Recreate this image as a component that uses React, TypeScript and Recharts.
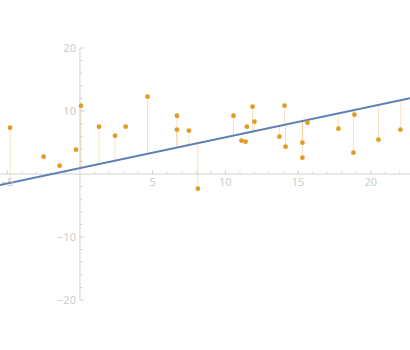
import {
  ComposedChart,
  ErrorBar,
  Line,
  ReferenceDot,
  ReferenceLine,
  Scatter,
  XAxis,
  YAxis,
} from "recharts";

// plot range (data units)
const xDomain = [-5.5, 22.7];
const yDomain = [-20, 20];

// points that get a residual stem to the fit line
const stemX = [-4.81, 0.07, 1.31, 2.41, 4.65, 6.67, 6.67, 7.49, 8.11, 10.56, 11.48, 11.87, 12.0, 13.72, 14.07, 14.14, 15.3, 15.3, 15.65, 17.78, 18.81, 18.88, 20.53, 22.04];
const stemY = [7.35, 10.84, 7.51, 6.08, 12.27, 9.25, 7.03, 6.87, -2.33, 9.25, 7.51, 10.68, 8.3, 5.92, 10.84, 4.33, 4.97, 2.59, 8.14, 7.19, 3.38, 9.41, 5.44, 7.03];

// points drawn without a stem
const plainX = [-2.5, -1.4, -0.27, 3.14, 11.11, 11.39];
const plainY = [2.75, 1.32, 3.86, 7.51, 5.29, 5.13];

// fit line y = a + b x
const fitIntercept = 0.93;
const fitSlope = 0.488;

const xTickLabels = [-5, 5, 10, 15, 20];
const yTickLabels = [-20, -10, 10, 20];

const axisColor = "#d2d2d2";
const labelColor = "#c8c8c8";
const dotColor = "#e19c24";
const stemColor = "rgba(232,160,48,0.3)";
const lineColor = "#5e81b5";

const fit = (x: number) => fitIntercept + fitSlope * x;

const stemData = stemX.map((x, i) => {
  const y = stemY[i];
  const d = y - fit(x);
  return { x, y, err: d > 0 ? [d, 0] : [0, -d] };
});
const plainData = plainX.map((x, i) => ({ x, y: plainY[i] }));
const lineData = xDomain.map((x) => ({ x, y: fit(x) }));

const xMinor: number[] = [];
for (let v = -5; v <= 22; v++) if (v !== 0) xMinor.push(v);
const yMinor: number[] = [];
for (let v = -20; v <= 20; v += 2) if (v !== 0) yMinor.push(v);

const fmt = (v: number) => (v < 0 ? "\u2212" + Math.abs(v) : String(v));

const labelStyle = { fill: labelColor, fontSize: 11, fontFamily: "Open Sans" };

const Dot = (p: any) => <circle cx={p.cx} cy={p.cy} r={2.4} fill={dotColor} />;

export default function App() {
  return (
    <div style={{ position: "absolute", left: 0, top: 0 }}>
      <ComposedChart
        width={410}
        height={350}
        margin={{ top: 48, right: 0, bottom: 50, left: 0 }}
      >
        <XAxis type="number" dataKey="x" domain={xDomain} allowDataOverflow hide />
        <YAxis type="number" dataKey="y" domain={yDomain} allowDataOverflow hide />

        {/* axes through the origin */}
        <ReferenceLine y={0} stroke={axisColor} strokeWidth={1} />
        <ReferenceLine
          segment={[{ x: 0, y: yDomain[0] }, { x: 0, y: yDomain[1] }]}
          stroke={axisColor}
          strokeWidth={1}
        />
        {xMinor.map((v) => (
          <ReferenceLine
            key={"xt" + v}
            segment={[{ x: v, y: 0 }, { x: v, y: v % 5 === 0 ? 0.62 : 0.34 }]}
            stroke={axisColor}
          />
        ))}
        {yMinor.map((v) => (
          <ReferenceLine
            key={"yt" + v}
            segment={[{ x: 0, y: v }, { x: v % 10 === 0 ? 0.3 : 0.18, y: v }]}
            stroke={axisColor}
          />
        ))}
        {xTickLabels.map((v) => (
          <ReferenceDot
            key={"xl" + v}
            x={v}
            y={0}
            r={0}
            fill="none"
            stroke="none"
            label={{ value: fmt(v), position: "bottom", offset: 4, style: labelStyle }}
          />
        ))}
        {yTickLabels.map((v) => (
          <ReferenceDot
            key={"yl" + v}
            x={0}
            y={v}
            r={0}
            fill="none"
            stroke="none"
            label={{ value: fmt(v), position: "left", offset: 4, style: labelStyle }}
          />
        ))}

        <Scatter data={stemData} dataKey="y" shape={Dot} isAnimationActive={false}>
          <ErrorBar
            dataKey="err"
            direction="y"
            width={0}
            stroke={stemColor}
            strokeWidth={1}
            isAnimationActive={false}
          />
        </Scatter>
        <Line
          data={lineData}
          dataKey="y"
          stroke={lineColor}
          strokeWidth={2}
          dot={false}
          isAnimationActive={false}
        />
        <Scatter data={plainData} dataKey="y" shape={Dot} isAnimationActive={false} />
      </ComposedChart>
    </div>
  );
}
